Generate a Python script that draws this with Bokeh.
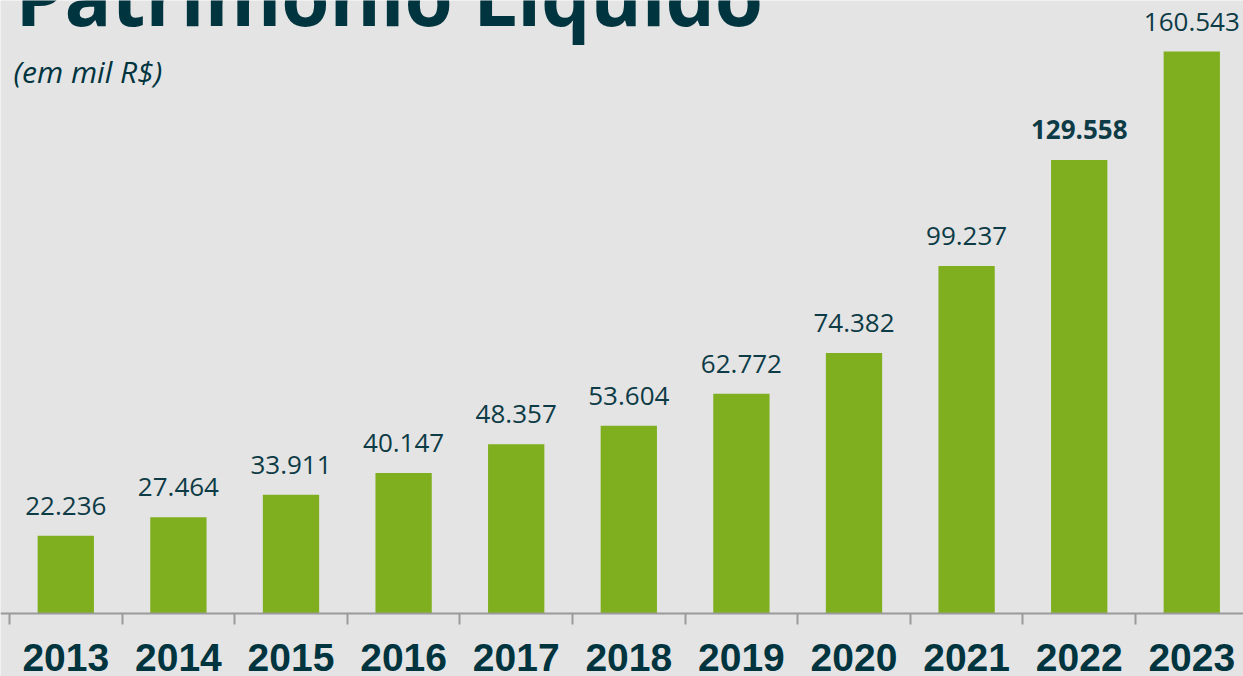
from bokeh.plotting import figure
from bokeh.models import ColumnDataSource, Range1d, LinearAxis, FixedTicker, Label
from bokeh.core.properties import value, field
from bokeh.embed import file_html
from bokeh.resources import INLINE

years = ["2013", "2014", "2015", "2016", "2017", "2018", "2019", "2020", "2021", "2022", "2023"]
patrimonio = [22.236, 27.464, 33.911, 40.147, 48.357, 53.604, 62.772, 74.382, 99.237, 129.558, 160.543]
value_labels = ["22.236", "27.464", "33.911", "40.147", "48.357", "53.604", "62.772", "74.382", "99.237", "129.558", "160.543"]
highlight = ["2022"]

BG = "#e4e4e4"
GREEN = "#7faf1f"
TEAL = "#00343f"
TEXT = "#0d3b46"

W, H = 1243, 676
px_per_cat = 112.6
px_per_unit = 3.5006
base_y = 613
x0 = -0.5 - 9 / px_per_cat
y_top = base_y / px_per_unit
y_bot = -(H - base_y) / px_per_unit

idx = list(range(len(years)))
src = ColumnDataSource(dict(
    x=idx,
    v=patrimonio,
    lbl=value_labels,
    style=["bold" if y in highlight else "normal" for y in years],
))

p = figure(width=W, height=H, output_backend="svg", toolbar_location=None,
           x_range=Range1d(x0, x0 + W / px_per_cat), y_range=Range1d(y_bot, y_top),
           x_axis_location=None, y_axis_location=None,
           min_border=0, min_border_left=0, min_border_right=0, min_border_top=0, min_border_bottom=0)
p.background_fill_color = BG
p.border_fill_color = BG
p.outline_line_color = None
p.grid.visible = False

p.vbar(x="x", top="v", bottom=0, width=0.5, source=src, fill_color=GREEN, line_color=None)

p.text(x="x", y="v", text="lbl", source=src, y_offset=-30,
       text_align="center", text_baseline="alphabetic",
       text_font=value("Open Sans"), text_font_size="26px",
       text_font_style=field("style"), text_color=TEXT)

ax = LinearAxis(fixed_location=0,
                ticker=FixedTicker(ticks=idx, minor_ticks=[i - 0.5 for i in range(len(years) + 1)]))
ax.major_label_overrides = {i: y for i, y in zip(idx, years)}
ax.major_tick_out = 0
ax.major_tick_in = 0
ax.minor_tick_out = 11
ax.minor_tick_in = 0
ax.minor_tick_line_color = "#9a9a9a"
ax.minor_tick_line_width = 2
ax.axis_line_color = "#9a9a9a"
ax.axis_line_width = 2
ax.major_label_standoff = 19
ax.major_label_text_font = "Liberation Sans"
ax.major_label_text_font_style = "bold"
ax.major_label_text_font_size = "39px"
ax.major_label_text_color = TEAL
p.add_layout(ax, "below")

def dx(ref_x):
    return (ref_x - 9) / px_per_cat - 0.5

def dy(ref_y):
    return (base_y - ref_y) / px_per_unit

p.add_layout(Label(x=dx(15), y=dy(-5), text="Patrimônio Líquido",
                   text_font="Open Sans", text_font_style="bold", text_font_size="78px",
                   text_color=TEAL, text_baseline="alphabetic"))
p.add_layout(Label(x=dx(13), y=dy(71), text="(em mil R$)",
                   text_font="Open Sans", text_font_style="italic", text_font_size="30px",
                   text_color=TEAL, text_baseline="alphabetic"))

open("out.html", "w").write(file_html(p, INLINE))
